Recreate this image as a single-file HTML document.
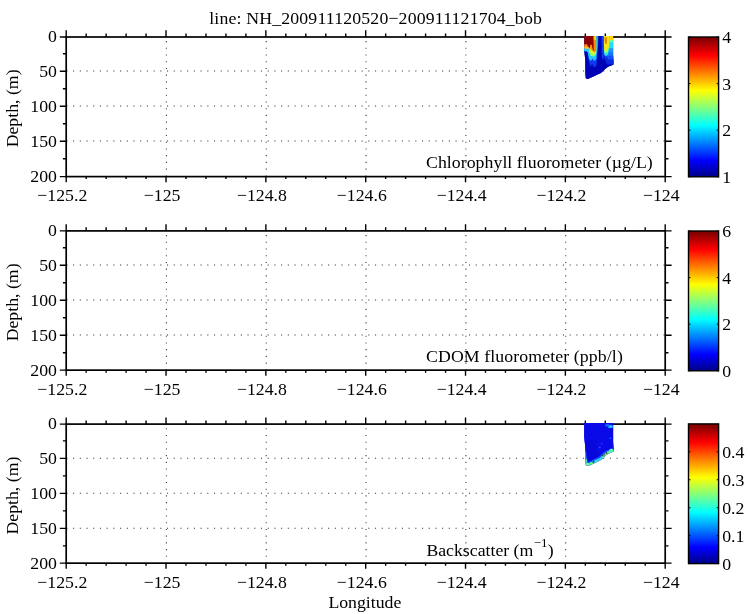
<!DOCTYPE html>
<html><head><meta charset="utf-8"><title>line: NH_200911120520-200911121704_bob</title>
<style>html,body{margin:0;padding:0;background:#fff;}svg{display:block;}text{font-family:"Liberation Serif",serif;font-size:17.75px;fill:#000;}</style>
</head><body>
<svg width="750" height="614" viewBox="0 0 750 614">
<rect x="0" y="0" width="750" height="614" fill="#fff"/>
<defs>
<linearGradient id="jet" x1="0" y1="1" x2="0" y2="0">
<stop offset="0.0078" stop-color="#00008f"/>
<stop offset="0.0234" stop-color="#00009f"/>
<stop offset="0.0391" stop-color="#0000af"/>
<stop offset="0.0547" stop-color="#0000bf"/>
<stop offset="0.0703" stop-color="#0000cf"/>
<stop offset="0.0859" stop-color="#0000df"/>
<stop offset="0.1016" stop-color="#0000ef"/>
<stop offset="0.1172" stop-color="#0000ff"/>
<stop offset="0.1328" stop-color="#0010ff"/>
<stop offset="0.1484" stop-color="#0020ff"/>
<stop offset="0.1641" stop-color="#0030ff"/>
<stop offset="0.1797" stop-color="#0040ff"/>
<stop offset="0.1953" stop-color="#0050ff"/>
<stop offset="0.2109" stop-color="#0060ff"/>
<stop offset="0.2266" stop-color="#0070ff"/>
<stop offset="0.2422" stop-color="#0080ff"/>
<stop offset="0.2578" stop-color="#008fff"/>
<stop offset="0.2734" stop-color="#009fff"/>
<stop offset="0.2891" stop-color="#00afff"/>
<stop offset="0.3047" stop-color="#00bfff"/>
<stop offset="0.3203" stop-color="#00cfff"/>
<stop offset="0.3359" stop-color="#00dfff"/>
<stop offset="0.3516" stop-color="#00efff"/>
<stop offset="0.3672" stop-color="#00ffff"/>
<stop offset="0.3828" stop-color="#10ffef"/>
<stop offset="0.3984" stop-color="#20ffdf"/>
<stop offset="0.4141" stop-color="#30ffcf"/>
<stop offset="0.4297" stop-color="#40ffbf"/>
<stop offset="0.4453" stop-color="#50ffaf"/>
<stop offset="0.4609" stop-color="#60ff9f"/>
<stop offset="0.4766" stop-color="#70ff8f"/>
<stop offset="0.4922" stop-color="#80ff80"/>
<stop offset="0.5078" stop-color="#8fff70"/>
<stop offset="0.5234" stop-color="#9fff60"/>
<stop offset="0.5391" stop-color="#afff50"/>
<stop offset="0.5547" stop-color="#bfff40"/>
<stop offset="0.5703" stop-color="#cfff30"/>
<stop offset="0.5859" stop-color="#dfff20"/>
<stop offset="0.6016" stop-color="#efff10"/>
<stop offset="0.6172" stop-color="#ffff00"/>
<stop offset="0.6328" stop-color="#ffef00"/>
<stop offset="0.6484" stop-color="#ffdf00"/>
<stop offset="0.6641" stop-color="#ffcf00"/>
<stop offset="0.6797" stop-color="#ffbf00"/>
<stop offset="0.6953" stop-color="#ffaf00"/>
<stop offset="0.7109" stop-color="#ff9f00"/>
<stop offset="0.7266" stop-color="#ff8f00"/>
<stop offset="0.7422" stop-color="#ff8000"/>
<stop offset="0.7578" stop-color="#ff7000"/>
<stop offset="0.7734" stop-color="#ff6000"/>
<stop offset="0.7891" stop-color="#ff5000"/>
<stop offset="0.8047" stop-color="#ff4000"/>
<stop offset="0.8203" stop-color="#ff3000"/>
<stop offset="0.8359" stop-color="#ff2000"/>
<stop offset="0.8516" stop-color="#ff1000"/>
<stop offset="0.8672" stop-color="#ff0000"/>
<stop offset="0.8828" stop-color="#ef0000"/>
<stop offset="0.8984" stop-color="#df0000"/>
<stop offset="0.9141" stop-color="#cf0000"/>
<stop offset="0.9297" stop-color="#bf0000"/>
<stop offset="0.9453" stop-color="#af0000"/>
<stop offset="0.9609" stop-color="#9f0000"/>
<stop offset="0.9766" stop-color="#8f0000"/>
<stop offset="0.9922" stop-color="#800000"/>
</linearGradient>
<filter id="tf" x="0" y="0" width="750" height="614" filterUnits="userSpaceOnUse" color-interpolation-filters="sRGB"><feComponentTransfer><feFuncA type="linear" slope="1"/></feComponentTransfer></filter>
</defs>
<g stroke="#000" stroke-opacity="0.8" stroke-width="1.05" fill="none">
<line x1="66.90" y1="70.95" x2="665.20" y2="70.95" stroke-dasharray="1.1 5.61" stroke-dashoffset="0.55"/>
<line x1="66.90" y1="105.95" x2="665.20" y2="105.95" stroke-dasharray="1.1 5.61" stroke-dashoffset="0.55"/>
<line x1="66.90" y1="140.95" x2="665.20" y2="140.95" stroke-dasharray="1.1 5.61" stroke-dashoffset="0.55"/>
<line x1="166.38" y1="175.80" x2="166.38" y2="36.20" stroke-dasharray="1.1 5.61" stroke-dashoffset="0.55"/>
<line x1="266.22" y1="175.80" x2="266.22" y2="36.20" stroke-dasharray="1.1 5.61" stroke-dashoffset="0.55"/>
<line x1="366.05" y1="175.80" x2="366.05" y2="36.20" stroke-dasharray="1.1 5.61" stroke-dashoffset="0.55"/>
<line x1="465.88" y1="175.80" x2="465.88" y2="36.20" stroke-dasharray="1.1 5.61" stroke-dashoffset="0.55"/>
<line x1="565.72" y1="175.80" x2="565.72" y2="36.20" stroke-dasharray="1.1 5.61" stroke-dashoffset="0.55"/>
</g>
<g stroke="#000" stroke-width="1.4" fill="none">
<path d="M66.20 37.00V30.30M66.20 176.60V182.20"/>
<path d="M86.17 37.00V33.40M86.17 176.60V179.10"/>
<path d="M106.13 37.00V33.40M106.13 176.60V179.10"/>
<path d="M126.10 37.00V33.40M126.10 176.60V179.10"/>
<path d="M146.07 37.00V33.40M146.07 176.60V179.10"/>
<path d="M166.03 37.00V30.30M166.03 176.60V182.20"/>
<path d="M186.00 37.00V33.40M186.00 176.60V179.10"/>
<path d="M205.97 37.00V33.40M205.97 176.60V179.10"/>
<path d="M225.93 37.00V33.40M225.93 176.60V179.10"/>
<path d="M245.90 37.00V33.40M245.90 176.60V179.10"/>
<path d="M265.87 37.00V30.30M265.87 176.60V182.20"/>
<path d="M285.83 37.00V33.40M285.83 176.60V179.10"/>
<path d="M305.80 37.00V33.40M305.80 176.60V179.10"/>
<path d="M325.77 37.00V33.40M325.77 176.60V179.10"/>
<path d="M345.73 37.00V33.40M345.73 176.60V179.10"/>
<path d="M365.70 37.00V30.30M365.70 176.60V182.20"/>
<path d="M385.67 37.00V33.40M385.67 176.60V179.10"/>
<path d="M405.63 37.00V33.40M405.63 176.60V179.10"/>
<path d="M425.60 37.00V33.40M425.60 176.60V179.10"/>
<path d="M445.57 37.00V33.40M445.57 176.60V179.10"/>
<path d="M465.53 37.00V30.30M465.53 176.60V182.20"/>
<path d="M485.50 37.00V33.40M485.50 176.60V179.10"/>
<path d="M505.47 37.00V33.40M505.47 176.60V179.10"/>
<path d="M525.43 37.00V33.40M525.43 176.60V179.10"/>
<path d="M545.40 37.00V33.40M545.40 176.60V179.10"/>
<path d="M565.37 37.00V30.30M565.37 176.60V182.20"/>
<path d="M585.33 37.00V33.40M585.33 176.60V179.10"/>
<path d="M605.30 37.00V33.40M605.30 176.60V179.10"/>
<path d="M625.27 37.00V33.40M625.27 176.60V179.10"/>
<path d="M645.23 37.00V33.40M645.23 176.60V179.10"/>
<path d="M665.20 37.00V30.30M665.20 176.60V182.20"/>
<path d="M66.20 37.00H59.80M665.20 37.00H671.60"/>
<path d="M66.20 53.70H62.90M665.20 53.70H668.50"/>
<path d="M66.20 71.20H59.80M665.20 71.20H671.60"/>
<path d="M66.20 88.70H62.90M665.20 88.70H668.50"/>
<path d="M66.20 106.20H59.80M665.20 106.20H671.60"/>
<path d="M66.20 123.70H62.90M665.20 123.70H668.50"/>
<path d="M66.20 141.20H59.80M665.20 141.20H671.60"/>
<path d="M66.20 158.70H62.90M665.20 158.70H668.50"/>
<path d="M66.20 176.60H59.80M665.20 176.60H671.60"/>
</g>
<rect x="66.20" y="37.00" width="599.00" height="139.60" fill="none" stroke="#000" stroke-width="1.7"/>
<clipPath id="c1"><polygon points="584.20,36.00 613.15,36.00 613.15,55.00 613.60,61.00 613.60,64.40 611.50,65.50 608.50,66.60 606.40,67.90 603.80,70.30 601.00,72.90 597.00,74.80 592.90,76.80 589.50,78.30 587.40,79.00 585.80,78.20 585.40,74.00 585.30,60.00 584.70,55.00 584.20,50.00" fill="#000" /></clipPath>
<filter id="b1" x="570" y="20" width="60" height="75" filterUnits="userSpaceOnUse" color-interpolation-filters="sRGB"><feGaussianBlur stdDeviation="0.75"/></filter>
<filter id="b1e" x="570" y="20" width="60" height="75" filterUnits="userSpaceOnUse" color-interpolation-filters="sRGB"><feGaussianBlur stdDeviation="0.35"/></filter>
<g filter="url(#b1e)"><g clip-path="url(#c1)">
<rect x="575.00" y="25.00" width="50.00" height="65.00" fill="#0000b4" />
<g filter="url(#b1)">
<rect x="575.00" y="25.00" width="50.00" height="65.00" fill="#0000b4" />
<polygon points="603.00,30.00 616.00,30.00 616.00,64.50 607.00,64.50 605.00,60.00 603.00,56.00" fill="#0a28dc" />
<polygon points="603.40,30.00 616.00,30.00 616.00,59.50 608.40,59.50 606.50,57.00 603.40,52.00" fill="#1050f8" />
<rect x="608.00" y="30.00" width="8.00" height="25.60" fill="#1478ff" />
<rect x="608.00" y="30.00" width="8.00" height="22.00" fill="#1c98ff" />
<rect x="607.20" y="30.00" width="8.80" height="18.20" fill="#22dcff" />
<rect x="607.50" y="30.00" width="8.50" height="12.20" fill="#70ffa0" />
<rect x="607.50" y="30.00" width="8.50" height="10.00" fill="#ffd200" />
<polygon points="603.50,30.00 609.40,30.00 609.40,48.00 608.00,54.80 605.60,56.40 604.10,54.40 603.50,46.00" fill="#28d8ff" />
<polygon points="603.70,30.00 609.20,30.00 609.20,46.50 607.70,52.40 605.50,53.40 604.20,51.40 603.70,44.00" fill="#a0ff60" />
<polygon points="603.70,30.00 609.20,30.00 609.20,45.00 607.80,50.20 605.60,50.80 604.10,49.00 603.70,42.00" fill="#f4e61a" />
<polygon points="604.60,37.20 606.80,37.20 607.00,41.00 606.60,44.00 605.20,43.80 604.60,41.00" fill="#f08000" />
<polygon points="598.20,30.00 602.80,30.00 603.00,50.00 603.60,58.00 603.00,70.00 597.00,70.00 597.20,56.00 598.00,46.00" fill="#0000b4" />
<polygon points="596.00,36.00 598.20,36.00 598.00,46.00 597.40,52.00 596.60,58.00 596.00,50.00" fill="#18a0ff" />
<polygon points="601.60,36.00 603.80,36.00 603.90,50.00 603.40,60.00 602.00,58.00 601.70,50.00" fill="#1040f0" />
<polygon points="588.00,50.00 597.00,44.00 597.20,58.00 596.40,66.00 594.00,67.50 592.00,64.00 590.50,67.00 589.00,62.00 588.40,58.00" fill="#0c38f0" />
<polygon points="587.80,47.00 596.60,40.00 596.80,54.00 596.20,59.60 594.00,61.00 592.50,58.50 591.00,61.00 589.00,59.00 588.00,54.30" fill="#20c8ff" />
<polygon points="589.00,46.00 596.20,38.00 596.40,52.00 595.50,55.50 593.00,56.50 590.50,55.50 589.20,52.00" fill="#90ff70" />
<polygon points="589.60,46.00 596.10,37.00 596.20,50.00 595.20,53.20 592.80,54.00 590.60,52.60 589.80,50.00" fill="#f0ec20" />
<polygon points="593.00,39.50 596.00,39.50 596.00,50.00 595.40,52.00 593.60,52.00 593.00,50.00" fill="#ff8400" />
<rect x="593.20" y="30.00" width="2.90" height="9.80" fill="#ffd400" />
<polygon points="583.00,42.00 588.60,42.00 589.60,50.20 588.00,52.70 586.50,51.20 583.00,51.20" fill="#28d0ff" />
<polygon points="583.00,42.00 588.40,42.00 589.20,48.30 587.60,49.10 583.00,47.90" fill="#ffc020" />
<polygon points="583.00,42.00 588.20,42.00 588.80,46.90 583.00,46.30" fill="#ff7a10" />
<polygon points="583.00,30.00 593.40,30.00 593.40,38.30 593.70,50.20 592.90,51.20 592.10,47.60 591.20,44.80 590.30,46.20 589.40,48.40 588.10,46.20 586.90,44.00 583.00,44.40" fill="#8c0000" />
<polygon points="590.20,45.20 591.20,44.20 592.20,46.80 592.30,49.40 591.20,50.20 590.30,48.40" fill="#ff8a10" />
</g>
</g></g>
<rect x="688.50" y="37.00" width="30.10" height="139.80" fill="url(#jet)" stroke="#000" stroke-width="1.4"/>
<g stroke="#000" stroke-width="1" fill="none">
<path d="M688.50 176.80h1.9M718.60 176.80h-1.9"/>
<path d="M688.50 130.20h1.9M718.60 130.20h-1.9"/>
<path d="M688.50 83.60h1.9M718.60 83.60h-1.9"/>
<path d="M688.50 37.00h1.9M718.60 37.00h-1.9"/>
</g>
<g stroke="#000" stroke-opacity="0.8" stroke-width="1.05" fill="none">
<line x1="66.90" y1="264.95" x2="665.20" y2="264.95" stroke-dasharray="1.1 5.61" stroke-dashoffset="0.55"/>
<line x1="66.90" y1="299.95" x2="665.20" y2="299.95" stroke-dasharray="1.1 5.61" stroke-dashoffset="0.55"/>
<line x1="66.90" y1="334.95" x2="665.20" y2="334.95" stroke-dasharray="1.1 5.61" stroke-dashoffset="0.55"/>
<line x1="166.38" y1="369.80" x2="166.38" y2="230.20" stroke-dasharray="1.1 5.61" stroke-dashoffset="0.55"/>
<line x1="266.22" y1="369.80" x2="266.22" y2="230.20" stroke-dasharray="1.1 5.61" stroke-dashoffset="0.55"/>
<line x1="366.05" y1="369.80" x2="366.05" y2="230.20" stroke-dasharray="1.1 5.61" stroke-dashoffset="0.55"/>
<line x1="465.88" y1="369.80" x2="465.88" y2="230.20" stroke-dasharray="1.1 5.61" stroke-dashoffset="0.55"/>
<line x1="565.72" y1="369.80" x2="565.72" y2="230.20" stroke-dasharray="1.1 5.61" stroke-dashoffset="0.55"/>
</g>
<g stroke="#000" stroke-width="1.4" fill="none">
<path d="M66.20 230.90V224.20M66.20 370.15V375.75"/>
<path d="M86.17 230.90V227.30M86.17 370.15V372.65"/>
<path d="M106.13 230.90V227.30M106.13 370.15V372.65"/>
<path d="M126.10 230.90V227.30M126.10 370.15V372.65"/>
<path d="M146.07 230.90V227.30M146.07 370.15V372.65"/>
<path d="M166.03 230.90V224.20M166.03 370.15V375.75"/>
<path d="M186.00 230.90V227.30M186.00 370.15V372.65"/>
<path d="M205.97 230.90V227.30M205.97 370.15V372.65"/>
<path d="M225.93 230.90V227.30M225.93 370.15V372.65"/>
<path d="M245.90 230.90V227.30M245.90 370.15V372.65"/>
<path d="M265.87 230.90V224.20M265.87 370.15V375.75"/>
<path d="M285.83 230.90V227.30M285.83 370.15V372.65"/>
<path d="M305.80 230.90V227.30M305.80 370.15V372.65"/>
<path d="M325.77 230.90V227.30M325.77 370.15V372.65"/>
<path d="M345.73 230.90V227.30M345.73 370.15V372.65"/>
<path d="M365.70 230.90V224.20M365.70 370.15V375.75"/>
<path d="M385.67 230.90V227.30M385.67 370.15V372.65"/>
<path d="M405.63 230.90V227.30M405.63 370.15V372.65"/>
<path d="M425.60 230.90V227.30M425.60 370.15V372.65"/>
<path d="M445.57 230.90V227.30M445.57 370.15V372.65"/>
<path d="M465.53 230.90V224.20M465.53 370.15V375.75"/>
<path d="M485.50 230.90V227.30M485.50 370.15V372.65"/>
<path d="M505.47 230.90V227.30M505.47 370.15V372.65"/>
<path d="M525.43 230.90V227.30M525.43 370.15V372.65"/>
<path d="M545.40 230.90V227.30M545.40 370.15V372.65"/>
<path d="M565.37 230.90V224.20M565.37 370.15V375.75"/>
<path d="M585.33 230.90V227.30M585.33 370.15V372.65"/>
<path d="M605.30 230.90V227.30M605.30 370.15V372.65"/>
<path d="M625.27 230.90V227.30M625.27 370.15V372.65"/>
<path d="M645.23 230.90V227.30M645.23 370.15V372.65"/>
<path d="M665.20 230.90V224.20M665.20 370.15V375.75"/>
<path d="M66.20 230.90H59.80M665.20 230.90H671.60"/>
<path d="M66.20 247.70H62.90M665.20 247.70H668.50"/>
<path d="M66.20 265.20H59.80M665.20 265.20H671.60"/>
<path d="M66.20 282.70H62.90M665.20 282.70H668.50"/>
<path d="M66.20 300.20H59.80M665.20 300.20H671.60"/>
<path d="M66.20 317.70H62.90M665.20 317.70H668.50"/>
<path d="M66.20 335.20H59.80M665.20 335.20H671.60"/>
<path d="M66.20 352.70H62.90M665.20 352.70H668.50"/>
<path d="M66.20 370.15H59.80M665.20 370.15H671.60"/>
</g>
<rect x="66.20" y="230.90" width="599.00" height="139.25" fill="none" stroke="#000" stroke-width="1.7"/>

<rect x="688.50" y="231.00" width="30.10" height="139.80" fill="url(#jet)" stroke="#000" stroke-width="1.4"/>
<g stroke="#000" stroke-width="1" fill="none">
<path d="M688.50 370.80h1.9M718.60 370.80h-1.9"/>
<path d="M688.50 324.20h1.9M718.60 324.20h-1.9"/>
<path d="M688.50 277.60h1.9M718.60 277.60h-1.9"/>
<path d="M688.50 231.00h1.9M718.60 231.00h-1.9"/>
</g>
<g stroke="#000" stroke-opacity="0.8" stroke-width="1.05" fill="none">
<line x1="66.90" y1="458.15" x2="665.20" y2="458.15" stroke-dasharray="1.1 5.61" stroke-dashoffset="0.55"/>
<line x1="66.90" y1="493.15" x2="665.20" y2="493.15" stroke-dasharray="1.1 5.61" stroke-dashoffset="0.55"/>
<line x1="66.90" y1="528.15" x2="665.20" y2="528.15" stroke-dasharray="1.1 5.61" stroke-dashoffset="0.55"/>
<line x1="166.38" y1="563.00" x2="166.38" y2="423.40" stroke-dasharray="1.1 5.61" stroke-dashoffset="0.55"/>
<line x1="266.22" y1="563.00" x2="266.22" y2="423.40" stroke-dasharray="1.1 5.61" stroke-dashoffset="0.55"/>
<line x1="366.05" y1="563.00" x2="366.05" y2="423.40" stroke-dasharray="1.1 5.61" stroke-dashoffset="0.55"/>
<line x1="465.88" y1="563.00" x2="465.88" y2="423.40" stroke-dasharray="1.1 5.61" stroke-dashoffset="0.55"/>
<line x1="565.72" y1="563.00" x2="565.72" y2="423.40" stroke-dasharray="1.1 5.61" stroke-dashoffset="0.55"/>
</g>
<g stroke="#000" stroke-width="1.4" fill="none">
<path d="M66.20 424.10V417.40M66.20 563.15V568.75"/>
<path d="M86.17 424.10V420.50M86.17 563.15V565.65"/>
<path d="M106.13 424.10V420.50M106.13 563.15V565.65"/>
<path d="M126.10 424.10V420.50M126.10 563.15V565.65"/>
<path d="M146.07 424.10V420.50M146.07 563.15V565.65"/>
<path d="M166.03 424.10V417.40M166.03 563.15V568.75"/>
<path d="M186.00 424.10V420.50M186.00 563.15V565.65"/>
<path d="M205.97 424.10V420.50M205.97 563.15V565.65"/>
<path d="M225.93 424.10V420.50M225.93 563.15V565.65"/>
<path d="M245.90 424.10V420.50M245.90 563.15V565.65"/>
<path d="M265.87 424.10V417.40M265.87 563.15V568.75"/>
<path d="M285.83 424.10V420.50M285.83 563.15V565.65"/>
<path d="M305.80 424.10V420.50M305.80 563.15V565.65"/>
<path d="M325.77 424.10V420.50M325.77 563.15V565.65"/>
<path d="M345.73 424.10V420.50M345.73 563.15V565.65"/>
<path d="M365.70 424.10V417.40M365.70 563.15V568.75"/>
<path d="M385.67 424.10V420.50M385.67 563.15V565.65"/>
<path d="M405.63 424.10V420.50M405.63 563.15V565.65"/>
<path d="M425.60 424.10V420.50M425.60 563.15V565.65"/>
<path d="M445.57 424.10V420.50M445.57 563.15V565.65"/>
<path d="M465.53 424.10V417.40M465.53 563.15V568.75"/>
<path d="M485.50 424.10V420.50M485.50 563.15V565.65"/>
<path d="M505.47 424.10V420.50M505.47 563.15V565.65"/>
<path d="M525.43 424.10V420.50M525.43 563.15V565.65"/>
<path d="M545.40 424.10V420.50M545.40 563.15V565.65"/>
<path d="M565.37 424.10V417.40M565.37 563.15V568.75"/>
<path d="M585.33 424.10V420.50M585.33 563.15V565.65"/>
<path d="M605.30 424.10V420.50M605.30 563.15V565.65"/>
<path d="M625.27 424.10V420.50M625.27 563.15V565.65"/>
<path d="M645.23 424.10V420.50M645.23 563.15V565.65"/>
<path d="M665.20 424.10V417.40M665.20 563.15V568.75"/>
<path d="M66.20 424.10H59.80M665.20 424.10H671.60"/>
<path d="M66.20 440.90H62.90M665.20 440.90H668.50"/>
<path d="M66.20 458.40H59.80M665.20 458.40H671.60"/>
<path d="M66.20 475.90H62.90M665.20 475.90H668.50"/>
<path d="M66.20 493.40H59.80M665.20 493.40H671.60"/>
<path d="M66.20 510.90H62.90M665.20 510.90H668.50"/>
<path d="M66.20 528.40H59.80M665.20 528.40H671.60"/>
<path d="M66.20 545.90H62.90M665.20 545.90H668.50"/>
<path d="M66.20 563.15H59.80M665.20 563.15H671.60"/>
</g>
<rect x="66.20" y="424.10" width="599.00" height="139.05" fill="none" stroke="#000" stroke-width="1.7"/>
<clipPath id="c3"><polygon points="584.20,423.10 613.15,423.10 613.15,442.10 613.60,448.10 613.60,451.50 611.50,452.60 608.50,453.70 606.40,455.00 603.80,457.40 601.00,460.00 597.00,461.90 592.90,463.90 589.50,465.40 587.40,466.10 585.80,465.30 585.40,461.10 585.30,447.10 584.70,442.10 584.20,437.10" fill="#000" /></clipPath>
<filter id="b3" x="570" y="410" width="60" height="75" filterUnits="userSpaceOnUse" color-interpolation-filters="sRGB"><feGaussianBlur stdDeviation="0.6"/></filter>
<filter id="b3e" x="570" y="410" width="60" height="75" filterUnits="userSpaceOnUse" color-interpolation-filters="sRGB"><feGaussianBlur stdDeviation="0.35"/></filter>
<g filter="url(#b3e)"><g clip-path="url(#c3)">
<rect x="575.00" y="415.00" width="50.00" height="65.00" fill="#0a0ae8" />
<g filter="url(#b3)">
<rect x="575.00" y="415.00" width="50.00" height="65.00" fill="#0a0ae8" />
<rect x="575.00" y="440.00" width="22.00" height="40.00" fill="#0808dc" />
<polyline points="613.80,451.50 611.50,452.60 608.50,453.70 606.40,455.00 603.80,457.40 601.00,460.00 597.00,461.90 592.90,463.90 589.50,465.40 587.40,466.10 585.80,465.30" fill="none" stroke="#1450ff" stroke-width="7.5" stroke-linejoin="round"/>
<polyline points="613.80,451.50 611.50,452.60 608.50,453.70 606.40,455.00 603.80,457.40 601.00,460.00 597.00,461.90 592.90,463.90 589.50,465.40 587.40,466.10 585.80,465.30" fill="none" stroke="#28d0f8" stroke-width="4.6" stroke-linejoin="round"/>
<polygon points="584.00,450.00 586.00,452.00 586.60,460.00 587.40,466.00 584.00,468.00" fill="#20b0ff" />
<ellipse cx="611.40" cy="450.60" rx="2.30" ry="1.90" fill="#60f0b0" />
<ellipse cx="608.60" cy="452.60" rx="1.60" ry="1.40" fill="#70f0a0" />
<ellipse cx="606.00" cy="454.60" rx="1.20" ry="1.20" fill="#d8f040" />
<ellipse cx="603.40" cy="457.00" rx="1.10" ry="1.10" fill="#c0f060" />
<ellipse cx="600.40" cy="459.40" rx="1.20" ry="1.10" fill="#40e0e0" />
<ellipse cx="596.40" cy="461.60" rx="1.30" ry="1.10" fill="#50e8c0" />
<ellipse cx="591.60" cy="463.40" rx="1.70" ry="1.30" fill="#60f0a0" />
<ellipse cx="587.80" cy="464.40" rx="1.90" ry="1.60" fill="#80f080" />
<ellipse cx="586.40" cy="461.00" rx="1.00" ry="2.00" fill="#50e0c0" />
<ellipse cx="610.40" cy="426.60" rx="2.60" ry="1.50" fill="#20c8ff" />
<ellipse cx="607.40" cy="425.40" rx="2.40" ry="1.40" fill="#1060ff" />
<ellipse cx="610.40" cy="438.20" rx="1.30" ry="0.80" fill="#1858ff" />
<ellipse cx="599.80" cy="447.60" rx="0.80" ry="0.80" fill="#3860ff" />
<ellipse cx="601.50" cy="443.50" rx="0.70" ry="1.20" fill="#1030ff" />
</g>
<ellipse cx="593.40" cy="461.90" rx="1.30" ry="0.60" fill="#283010" transform="rotate(-35 593.4 461.9)"/>
<ellipse cx="602.90" cy="455.60" rx="0.60" ry="1.00" fill="#303818" transform="rotate(-35 602.9 455.6)"/>
<ellipse cx="606.60" cy="453.20" rx="0.70" ry="0.90" fill="#283018" transform="rotate(-35 606.6 453.2)"/>
<ellipse cx="604.90" cy="454.60" rx="0.50" ry="0.80" fill="#404820" transform="rotate(-35 604.9 454.6)"/>
</g></g>
<rect x="688.50" y="423.90" width="30.10" height="139.70" fill="url(#jet)" stroke="#000" stroke-width="1.4"/>
<g stroke="#000" stroke-width="1" fill="none">
<path d="M688.50 563.60h1.9M718.60 563.60h-1.9"/>
<path d="M688.50 535.66h1.9M718.60 535.66h-1.9"/>
<path d="M688.50 507.72h1.9M718.60 507.72h-1.9"/>
<path d="M688.50 479.78h1.9M718.60 479.78h-1.9"/>
<path d="M688.50 451.84h1.9M718.60 451.84h-1.9"/>
</g>
<g filter="url(#tf)">
<text x="209.2" y="23.8" textLength="332.6">line: NH_200911120520−200911121704_bob</text>
<text x="56.9" y="42.10" text-anchor="end">0</text>
<text x="56.9" y="76.70" text-anchor="end">50</text>
<text x="56.9" y="111.70" text-anchor="end">100</text>
<text x="56.9" y="146.70" text-anchor="end">150</text>
<text x="56.9" y="181.90" text-anchor="end">200</text>
<text x="62.30" y="201.10" text-anchor="middle">−125.2</text>
<text x="162.13" y="201.10" text-anchor="middle">−125</text>
<text x="261.97" y="201.10" text-anchor="middle">−124.8</text>
<text x="361.80" y="201.10" text-anchor="middle">−124.6</text>
<text x="461.63" y="201.10" text-anchor="middle">−124.4</text>
<text x="561.47" y="201.10" text-anchor="middle">−124.2</text>
<text x="661.30" y="201.10" text-anchor="middle">−124</text>
<text transform="translate(18.30 108.40) rotate(-90)" text-anchor="middle">Depth, (m)</text>
<text x="426.0" y="168.00" textLength="226.7">Chlorophyll fluorometer (µg/L)</text>
<text x="722.2" y="182.80">1</text>
<text x="722.2" y="136.20">2</text>
<text x="722.2" y="89.60">3</text>
<text x="722.2" y="43.00">4</text>
<text x="56.9" y="236.10" text-anchor="end">0</text>
<text x="56.9" y="270.70" text-anchor="end">50</text>
<text x="56.9" y="305.70" text-anchor="end">100</text>
<text x="56.9" y="340.70" text-anchor="end">150</text>
<text x="56.9" y="375.90" text-anchor="end">200</text>
<text x="62.30" y="395.10" text-anchor="middle">−125.2</text>
<text x="162.13" y="395.10" text-anchor="middle">−125</text>
<text x="261.97" y="395.10" text-anchor="middle">−124.8</text>
<text x="361.80" y="395.10" text-anchor="middle">−124.6</text>
<text x="461.63" y="395.10" text-anchor="middle">−124.4</text>
<text x="561.47" y="395.10" text-anchor="middle">−124.2</text>
<text x="661.30" y="395.10" text-anchor="middle">−124</text>
<text transform="translate(18.30 302.40) rotate(-90)" text-anchor="middle">Depth, (m)</text>
<text x="426.0" y="362.30" textLength="196.8">CDOM fluorometer (ppb/l)</text>
<text x="722.2" y="376.80">0</text>
<text x="722.2" y="330.20">2</text>
<text x="722.2" y="283.60">4</text>
<text x="722.2" y="237.00">6</text>
<text x="56.9" y="429.30" text-anchor="end">0</text>
<text x="56.9" y="463.90" text-anchor="end">50</text>
<text x="56.9" y="498.90" text-anchor="end">100</text>
<text x="56.9" y="533.90" text-anchor="end">150</text>
<text x="56.9" y="569.10" text-anchor="end">200</text>
<text x="62.30" y="588.30" text-anchor="middle">−125.2</text>
<text x="162.13" y="588.30" text-anchor="middle">−125</text>
<text x="261.97" y="588.30" text-anchor="middle">−124.8</text>
<text x="361.80" y="588.30" text-anchor="middle">−124.6</text>
<text x="461.63" y="588.30" text-anchor="middle">−124.4</text>
<text x="561.47" y="588.30" text-anchor="middle">−124.2</text>
<text x="661.30" y="588.30" text-anchor="middle">−124</text>
<text transform="translate(18.30 495.60) rotate(-90)" text-anchor="middle">Depth, (m)</text>
<text x="426.4" y="555.80">Backscatter (m<tspan dy="-8.5" dx="0.4" font-size="13px">−1</tspan><tspan dy="8.5" dx="0.2">)</tspan></text>
<text x="722.2" y="569.60">0</text>
<text x="722.2" y="541.66">0.1</text>
<text x="722.2" y="513.72">0.2</text>
<text x="722.2" y="485.78">0.3</text>
<text x="722.2" y="457.84">0.4</text>
<text x="364.9" y="607.6" text-anchor="middle">Longitude</text>
</g>
</svg>
</body></html>
